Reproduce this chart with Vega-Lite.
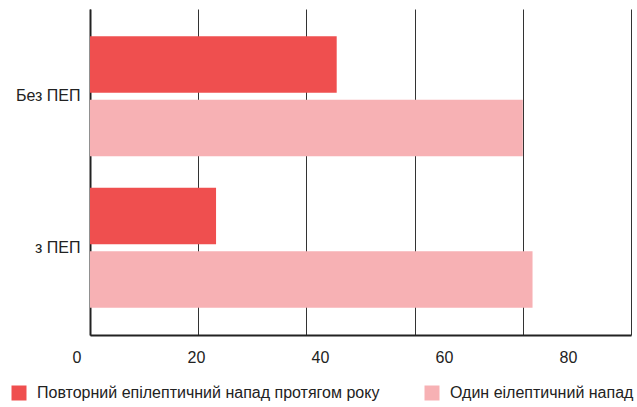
{
  "$schema": "https://vega.github.io/schema/vega-lite/v6.json",
  "width": 541,
  "height": 326,
  "autosize": "none",
  "padding": {"left": 90, "top": 9, "right": 6, "bottom": 72},
  "background": "white",
  "config": {
    "view": {"stroke": null},
    "font": "Liberation Sans"
  },
  "data": {
    "values": [
      {"group": "Без ПЕП", "series": "Повторний епілептичний напад протягом року", "value": 45.6},
      {"group": "Без ПЕП", "series": "Один еілептичний напад", "value": 80.0},
      {"group": "з ПЕП", "series": "Повторний епілептичний напад протягом року", "value": 23.3},
      {"group": "з ПЕП", "series": "Один еілептичний напад", "value": 81.8}
    ]
  },
  "mark": {"type": "bar"},
  "encoding": {
    "y": {
      "field": "group",
      "type": "nominal",
      "sort": ["Без ПЕП", "з ПЕП"],
      "scale": {"paddingInner": 0.207, "paddingOuter": 0.18},
      "axis": {
        "title": null,
        "ticks": false,
        "domain": true,
        "domainColor": "#222",
        "domainWidth": 2,
        "labelFontSize": 16,
        "labelColor": "#222",
        "labelPadding": 10
      }
    },
    "yOffset": {
      "field": "series",
      "type": "nominal",
      "sort": ["Повторний епілептичний напад протягом року", "Один еілептичний напад"],
      "scale": {"paddingInner": 0.11, "paddingOuter": 0}
    },
    "x": {
      "field": "value",
      "type": "quantitative",
      "scale": {"domain": [0, 100], "nice": false},
      "axis": {
        "title": null,
        "values": [0, 20, 40, 60, 80, 100],
        "labelExpr": "datum.value == 100 ? '' : datum.label",
        "labelOffset": {"expr": "datum.value * 0.79 - 18"},
        "ticks": false,
        "grid": true,
        "gridColor": "#333",
        "gridWidth": 1,
        "domainColor": "#222",
        "domainWidth": 2,
        "labelFontSize": 16,
        "labelColor": "#222",
        "labelPadding": 14
      }
    },
    "color": {
      "field": "series",
      "type": "nominal",
      "sort": ["Повторний епілептичний напад протягом року", "Один еілептичний напад"],
      "scale": {"range": ["#EF4F4F", "#F7B1B4"]},
      "legend": {
        "title": null,
        "orient": "none",
        "legendX": -79,
        "legendY": 376,
        "direction": "horizontal",
        "symbolType": "square",
        "symbolSize": 225,
        "symbolStrokeWidth": 0,
        "labelFontSize": 16,
        "labelLimit": 0,
        "labelColor": "#222",
        "labelOffset": 10,
        "columnPadding": 44
      }
    }
  }
}
